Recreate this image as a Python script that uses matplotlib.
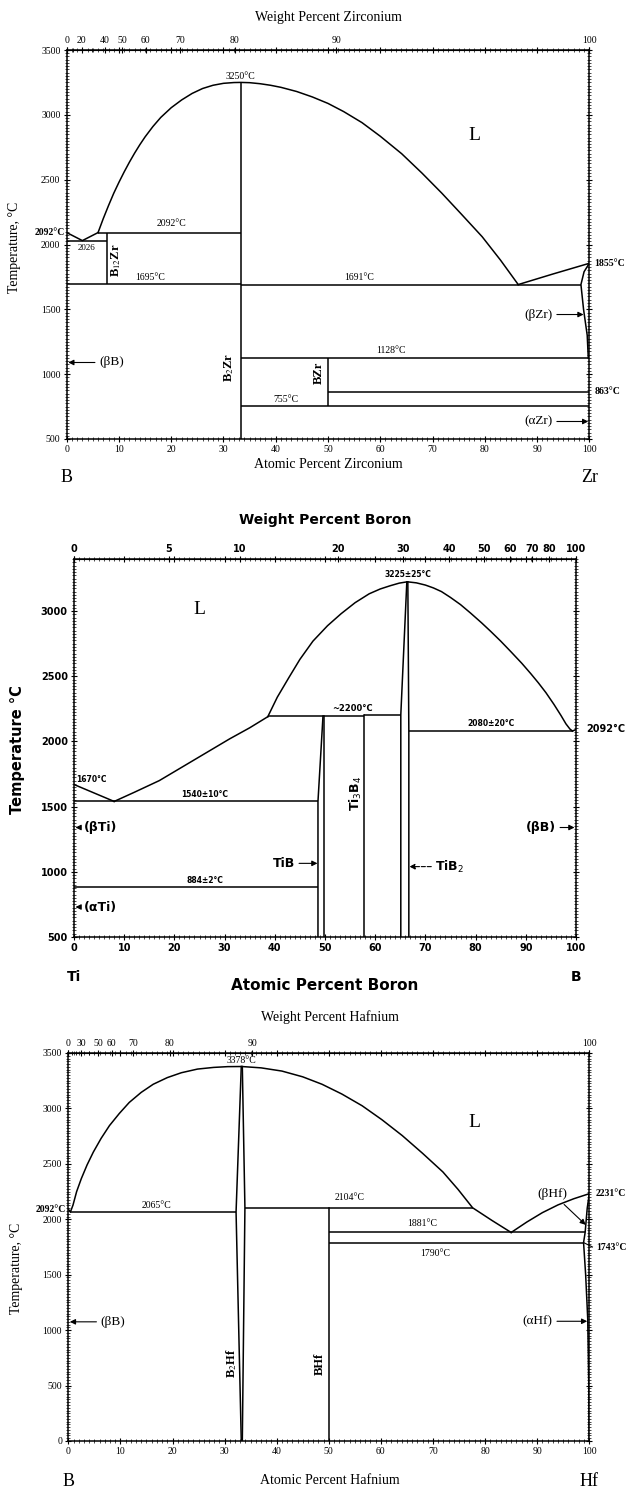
import numpy as np
import matplotlib.pyplot as plt
from matplotlib.ticker import MultipleLocator, FixedLocator

plt.rcParams['font.family'] = ['Liberation Serif', 'DejaVu Serif']

# ---------------- B - Zr ----------------
zr_wt_major = [0, 20, 40, 50, 60, 70, 80, 90, 100]
zr_wt_minor = [10, 30]
zr_liq_left_x = [0, 3.0, 6.0]
zr_liq_left_t = [2092, 2030, 2092]
zr_dome_x = [6.0, 7.0, 8.0, 9.0, 10.0, 11.0, 12.0, 13.0, 14.0, 15.0, 16.5,
             18.0, 20.0, 22.0, 24.0, 26.0, 28.0, 30.0, 32.0, 33.3, 35.0,
             37.0, 39.0, 41.0, 44.0, 47.0, 50.0, 53.0, 56.5, 60.0, 64.1,
             68.0, 71.8, 75.5, 79.5, 83.0, 86.4]
zr_dome_t = [2092, 2200, 2300, 2395, 2480, 2560, 2635, 2705, 2770, 2830, 2910,
             2980, 3055, 3115, 3165, 3203, 3228, 3243, 3249, 3250, 3248,
             3240, 3228, 3212, 3180, 3138, 3088, 3025, 2940, 2835, 2700,
             2550, 2395, 2235, 2060, 1880, 1691]
zr_liq_right_x = [86.4, 93.0, 100]
zr_liq_right_t = [1691, 1772, 1855]
zr_beta_x = [100, 99.0, 98.4, 98.9, 99.6, 99.8]
zr_beta_t = [1855, 1790, 1691, 1500, 1300, 1128]
zr_iso_t = [2092, 2026, 1695, 1691, 1128, 863, 755]
zr_iso_x0 = [6.0, 0, 0, 33.3, 33.3, 50, 33.3]
zr_iso_x1 = [33.3, 7.7, 33.3, 98.4, 100, 100, 100]
zr_cmp_x = [7.7, 33.3, 50]
zr_cmp_t0 = [1695, 500, 755]
zr_cmp_t1 = [2092, 3250, 1128]

# ---------------- Ti - B ----------------
ti_wt_major = [0, 5, 10, 20, 30, 40, 50, 60, 70, 80, 100]
ti_liq_left_x = [0, 8.0]
ti_liq_left_t = [1670, 1540]
ti_liq_mid_x = [8.0, 12.0, 17.0, 20.5, 24.0, 27.5, 31.0, 35.0, 38.6]
ti_liq_mid_t = [1540, 1610, 1700, 1780, 1860, 1940, 2020, 2105, 2190]
ti_dome_x = [38.6, 40.5, 42.8, 45.0, 47.6, 50.5, 53.2, 56.0, 58.8, 61.0, 63.0,
             64.8, 66.4, 68.2, 70.0, 71.6, 73.2, 75.0, 77.0, 79.0, 81.2, 83.0,
             85.0, 87.0, 89.2, 91.0, 92.5, 94.0, 95.6, 97.0, 98.0, 98.8, 99.3]
ti_dome_t = [2190, 2340, 2490, 2630, 2770, 2888, 2980, 3065, 3133, 3170, 3195,
             3215, 3225, 3217, 3200, 3178, 3150, 3105, 3050, 2985, 2910, 2845,
             2770, 2690, 2600, 2520, 2450, 2375, 2285, 2200, 2135, 2095, 2080]
ti_iso_t = [2195, 2205, 1540, 884, 2080]
ti_iso_x0 = [38.6, 57.8, 0, 0, 66.7]
ti_iso_x1 = [57.8, 65.1, 48.6, 48.6, 99.3]
tib_left_x = [48.6, 48.6, 49.6]
tib_left_t = [500, 1540, 2195]
tib_right_x = [49.9, 49.9]
tib_right_t = [500, 2195]
ti3b4_x = [57.8, 57.8]
ti3b4_t = [500, 2200]
tib2_left_x = [65.1, 65.1, 66.3]
tib2_left_t = [500, 2205, 3225]
tib2_right_x = [66.7, 66.7, 66.5]
tib2_right_t = [500, 2080, 3225]

# ---------------- B - Hf ----------------
hf_wt_major = [0, 30, 50, 60, 70, 80, 90, 100]
hf_wt_minor = [10, 20, 40]
hf_dome_x = [0, 0.4, 0.9, 1.6, 2.5, 3.6, 4.8, 6.3, 7.9, 9.8, 11.7, 14.0,
             16.3, 19.0, 21.7, 24.8, 27.9, 30.6, 33.3, 37.0, 41.0, 45.0,
             48.7, 52.5, 56.4, 60.2, 64.1, 68.0, 71.9, 74.8, 77.6, 81.3, 85.0]
hf_dome_t = [2092, 2065, 2128, 2250, 2367, 2490, 2606, 2730, 2845, 2955, 3054,
             3145, 3218, 3278, 3322, 3355, 3370, 3377, 3378, 3366, 3337, 3285,
             3218, 3130, 3024, 2898, 2755, 2595, 2427, 2270, 2104, 1990, 1881]
hf_liq_right_x = [85.0, 88.0, 91.0, 94.0, 97.0, 100]
hf_liq_right_t = [1881, 1975, 2060, 2130, 2185, 2231]
hf_beta_x = [100, 99.6, 99.2, 98.9, 99.3, 99.7, 99.9, 100]
hf_beta_t = [2231, 2100, 1881, 1790, 1500, 1100, 500, 0]
hf_iso_t = [2065, 2104, 1881, 1790]
hf_iso_x0 = [0.4, 33.9, 50, 50]
hf_iso_x1 = [32.2, 77.6, 99.2, 98.9]
b2hf_left_x = [33.2, 32.2, 33.2]
b2hf_left_t = [0, 2065, 3378]
b2hf_right_x = [33.4, 33.9, 33.4]
b2hf_right_t = [0, 2104, 3378]
bhf_x = [50, 50]
bhf_t = [0, 2104]

M_B, M_ZR, M_TI, M_HF = 10.81, 91.224, 47.867, 178.49

W, H = 631, 1491


def box(l, r, t, b):
    return [l / W, 1 - b / H, (r - l) / W, (b - t) / H]


def make_conv(m_a, m_b):
    # atomic % of b  <->  weight % of b
    def at2wt(a):
        a = np.asarray(a, float)
        return 100 * a * m_b / (a * m_b + (100 - a) * m_a)

    def wt2at(w):
        w = np.asarray(w, float)
        return 100 * (w / m_b) / (w / m_b + (100 - w) / m_a)
    return at2wt, wt2at


def style(ax, ymin, ymax, lab_font, lab_size, lab_weight='normal'):
    ax.set_xlim(0, 100)
    ax.set_ylim(ymin, ymax)
    ax.xaxis.set_major_locator(MultipleLocator(10))
    ax.xaxis.set_minor_locator(MultipleLocator(1))
    ax.yaxis.set_major_locator(MultipleLocator(500))
    ax.yaxis.set_minor_locator(MultipleLocator(25))
    ax.tick_params(which='both', direction='inout', top=True, right=True,
                   labeltop=False)
    ax.tick_params(which='major', length=5, width=0.8, pad=2)
    ax.tick_params(which='minor', length=2.5, width=0.5)
    for s in ax.spines.values():
        s.set_linewidth(1.1)
    for lab in ax.get_xticklabels() + ax.get_yticklabels():
        lab.set_fontfamily(lab_font)
        lab.set_fontsize(lab_size)
        lab.set_fontweight(lab_weight)


def top_axis(ax, m_a, m_b, major, minor, font, size, weight='normal'):
    f, g = make_conv(m_a, m_b)
    sec = ax.secondary_xaxis('top', functions=(f, g))
    sec.xaxis.set_major_locator(FixedLocator(major))
    sec.xaxis.set_minor_locator(FixedLocator(minor))
    sec.tick_params(which='major', length=5, width=0.8, pad=1, direction='inout')
    sec.tick_params(which='minor', length=3, width=0.6, direction='inout')
    sec.set_xticks(major)
    sec.set_xticklabels([str(v) for v in major], fontfamily=font,
                        fontsize=size, fontweight=weight)
    return sec


def arrow(ax, txt, xy, xytext, ha, fs, fam, weight='normal', ls='-'):
    ax.annotate(txt, xy=xy, xytext=xytext, ha=ha, va='center', fontsize=fs,
                fontfamily=fam, fontweight=weight,
                arrowprops=dict(arrowstyle='-|>', color='k', lw=0.8, ls=ls,
                                shrinkA=1, shrinkB=0, mutation_scale=8))


fig = plt.figure(figsize=(W / 100, H / 100), dpi=100)
LW = 1.1
SERIF = ['Liberation Serif', 'DejaVu Serif']
SANS = ['DejaVu Sans']

# ======================= panel 1 : B-Zr =======================
ax1 = fig.add_axes(box(66.7, 589.3, 50, 439))
ax1.plot(zr_liq_left_x, zr_liq_left_t, 'k', lw=LW)
ax1.plot(zr_dome_x, zr_dome_t, 'k', lw=LW)
ax1.plot(zr_liq_right_x, zr_liq_right_t, 'k', lw=LW)
ax1.plot(zr_beta_x, zr_beta_t, 'k', lw=LW)
ax1.hlines(zr_iso_t, zr_iso_x0, zr_iso_x1, colors='k', lw=LW)
ax1.vlines(zr_cmp_x, zr_cmp_t0, zr_cmp_t1, colors='k', lw=LW)
style(ax1, 500, 3500, SERIF, 7)
top_axis(ax1, M_B, M_ZR, zr_wt_major, zr_wt_minor, SERIF, 7)

ax1.text(3.8, 1972, '2026', fontsize=6.5, ha='center', va='center')
ax1.text(9.4, 1880, 'B$_{12}$Zr', rotation=90, fontsize=9, fontweight='bold',
         ha='center', va='center', math_fontfamily='stix')
ax1.text(20, 2130, '2092°C', fontsize=7, ha='center', va='bottom')
ax1.text(16, 1712, '1695°C', fontsize=7, ha='center', va='bottom')
ax1.text(56, 1708, '1691°C', fontsize=7, ha='center', va='bottom')
ax1.text(33.3, 3262, '3250°C', fontsize=7, ha='center', va='bottom')
ax1.text(78, 2840, 'L', fontsize=14, ha='center', va='center')
ax1.text(62, 1145, '1128°C', fontsize=7, ha='center', va='bottom')
ax1.text(42, 770, '755°C', fontsize=7, ha='center', va='bottom')
ax1.text(31.0, 1050, 'B$_2$Zr', rotation=90, fontsize=9, fontweight='bold',
         ha='center', va='center', math_fontfamily='stix')
ax1.text(48.2, 1010, 'BZr', rotation=90, fontsize=9, fontweight='bold',
         ha='center', va='center')
ax1.text(-0.4, 2092, '2092°C', fontsize=7, fontweight='bold', ha='right', va='center')
ax1.text(101, 1855, '1855°C', fontsize=7, fontweight='bold', ha='left', va='center')
ax1.text(101, 863, '863°C', fontsize=7, fontweight='bold', ha='left', va='center')
arrow(ax1, '(βB)', (0.3, 1090), (6.2, 1090), 'left', 9.5, SERIF)
arrow(ax1, '(βZr)', (98.9, 1460), (93.0, 1460), 'right', 9.5, SERIF)
arrow(ax1, '(αZr)', (99.8, 635), (93.0, 635), 'right', 9.5, SERIF)

tr1 = ax1.get_xaxis_transform()
ax1.text(0, -0.098, 'B', transform=tr1, fontsize=13, ha='center', va='center')
ax1.text(100, -0.098, 'Zr', transform=tr1, fontsize=13, ha='center', va='center')
fig.text(328 / W, 1 - 464 / H, 'Atomic Percent Zirconium', fontsize=10,
         ha='center', va='center')
fig.text(328 / W, 1 - 17 / H, 'Weight Percent Zirconium', fontsize=10,
         ha='center', va='center')
fig.text(15 / W, 1 - 247 / H, 'Temperature, °C', fontsize=10, rotation=90,
         ha='center', va='center')

# ======================= panel 2 : Ti-B =======================
ax2 = fig.add_axes(box(74, 576, 559, 937))
ax2.plot(ti_liq_left_x, ti_liq_left_t, 'k', lw=LW)
ax2.plot(ti_liq_mid_x, ti_liq_mid_t, 'k', lw=LW)
ax2.plot(ti_dome_x, ti_dome_t, 'k', lw=LW)
ax2.hlines(ti_iso_t, ti_iso_x0, ti_iso_x1, colors='k', lw=LW)
ax2.plot(tib_left_x, tib_left_t, 'k', lw=LW)
ax2.plot(tib_right_x, tib_right_t, 'k', lw=LW)
ax2.plot(ti3b4_x, ti3b4_t, 'k', lw=LW)
ax2.plot(tib2_left_x, tib2_left_t, 'k', lw=LW)
ax2.plot(tib2_right_x, tib2_right_t, 'k', lw=LW)
ax2.plot([99.3, 100], [2080, 2092], 'k', lw=LW)
style(ax2, 500, 3400, SANS, 7, 'bold')
top_axis(ax2, M_TI, M_B, ti_wt_major, [], SANS, 7, 'bold')

ax2.text(25, 3010, 'L', fontsize=14, ha='center', va='center', fontfamily=SERIF)
ax2.text(66.5, 3245, '3225±25°C', fontsize=5.5, fontweight='bold',
         fontfamily=SANS, ha='center', va='bottom')
ax2.text(55.5, 2220, '~2200°C', fontsize=6, fontweight='bold', fontfamily=SANS,
         ha='center', va='bottom')
ax2.text(83, 2100, '2080±20°C', fontsize=5.5, fontweight='bold', fontfamily=SANS,
         ha='center', va='bottom')
ax2.text(0.4, 1705, '1670°C', fontsize=5.5, fontweight='bold', fontfamily=SANS,
         ha='left', va='center')
ax2.text(26, 1555, '1540±10°C', fontsize=5.5, fontweight='bold', fontfamily=SANS,
         ha='center', va='bottom')
ax2.text(26, 900, '884±2°C', fontsize=5.5, fontweight='bold', fontfamily=SANS,
         ha='center', va='bottom')
ax2.text(56.2, 1600, 'Ti$_3$B$_4$', rotation=90, fontsize=9, fontweight='bold',
         fontfamily=SANS, ha='center', va='center', math_fontfamily='dejavusans')
ax2.text(102, 2092, '2092°C', fontsize=7, fontweight='bold', fontfamily=SANS,
         ha='left', va='center')
arrow(ax2, '(βTi)', (0.3, 1340), (2.0, 1340), 'left', 9, SANS, 'bold')
arrow(ax2, '(αTi)', (0.3, 730), (2.0, 730), 'left', 9, SANS, 'bold')
arrow(ax2, '(βB)', (99.7, 1340), (96.0, 1340), 'right', 9, SANS, 'bold')
arrow(ax2, 'TiB', (48.5, 1065), (44.0, 1065), 'right', 9, SANS, 'bold')
arrow(ax2, 'TiB$_2$', (66.8, 1040), (72.0, 1040), 'left', 9, SANS, 'bold', '--')

tr2 = ax2.get_xaxis_transform()
ax2.text(0, -0.105, 'Ti', transform=tr2, fontsize=10, fontweight='bold',
         fontfamily=SANS, ha='center', va='center')
ax2.text(100, -0.105, 'B', transform=tr2, fontsize=10, fontweight='bold',
         fontfamily=SANS, ha='center', va='center')
fig.text(325 / W, 1 - 985 / H, 'Atomic Percent Boron', fontsize=11,
         fontweight='bold', fontfamily=SANS, ha='center', va='center')
fig.text(325 / W, 1 - 520 / H, 'Weight Percent Boron', fontsize=10,
         fontweight='bold', fontfamily=SANS, ha='center', va='center')
fig.text(18 / W, 1 - 750 / H, 'Temperature °C', fontsize=10.5, fontweight='bold',
         fontfamily=SANS, rotation=90, ha='center', va='center')

# ======================= panel 3 : B-Hf =======================
ax3 = fig.add_axes(box(68.3, 589.3, 1053, 1441))
ax3.plot(hf_dome_x, hf_dome_t, 'k', lw=LW)
ax3.plot(hf_liq_right_x, hf_liq_right_t, 'k', lw=LW)
ax3.plot(hf_beta_x, hf_beta_t, 'k', lw=LW)
ax3.hlines(hf_iso_t, hf_iso_x0, hf_iso_x1, colors='k', lw=LW)
ax3.plot(b2hf_left_x, b2hf_left_t, 'k', lw=LW)
ax3.plot(b2hf_right_x, b2hf_right_t, 'k', lw=LW)
ax3.plot(bhf_x, bhf_t, 'k', lw=LW)
ax3.plot([98.9, 100.6], [1790, 1750], 'k', lw=0.8, clip_on=False)
style(ax3, 0, 3500, SERIF, 7)
top_axis(ax3, M_B, M_HF, hf_wt_major, hf_wt_minor, SERIF, 7)

ax3.text(33.3, 3390, '3378°C', fontsize=7, ha='center', va='bottom')
ax3.text(17, 2085, '2065°C', fontsize=7, ha='center', va='bottom')
ax3.text(54, 2160, '2104°C', fontsize=7, ha='center', va='bottom')
ax3.text(68, 1920, '1881°C', fontsize=7, ha='center', va='bottom')
ax3.text(70.5, 1690, '1790°C', fontsize=7, ha='center', va='center')
ax3.text(78, 2870, 'L', fontsize=14, ha='center', va='center')
ax3.text(31.3, 700, 'B$_2$Hf', rotation=90, fontsize=9, fontweight='bold',
         ha='center', va='center', math_fontfamily='stix')
ax3.text(48.2, 700, 'BHf', rotation=90, fontsize=9, fontweight='bold',
         ha='center', va='center')
ax3.text(-0.4, 2092, '2092°C', fontsize=7, fontweight='bold', ha='right', va='center')
ax3.text(101.3, 2231, '2231°C', fontsize=7, fontweight='bold', ha='left', va='center')
ax3.text(101.3, 1743, '1743°C', fontsize=7, fontweight='bold', ha='left', va='center')
ax3.annotate('(βHf)', xy=(99.3, 1950), xytext=(93.0, 2230), ha='center',
             va='center', fontsize=9.5,
             arrowprops=dict(arrowstyle='-|>', color='k', lw=0.8, shrinkA=2,
                             shrinkB=0, mutation_scale=8))
arrow(ax3, '(βB)', (0.3, 1075), (6.2, 1075), 'left', 9.5, SERIF)
arrow(ax3, '(αHf)', (99.6, 1080), (93.0, 1080), 'right', 9.5, SERIF)

tr3 = ax3.get_xaxis_transform()
ax3.text(0, -0.105, 'B', transform=tr3, fontsize=13, ha='center', va='center')
ax3.text(100, -0.105, 'Hf', transform=tr3, fontsize=13, ha='center', va='center')
fig.text(330 / W, 1 - 1481 / H, 'Atomic Percent Hafnium', fontsize=10,
         ha='center', va='center')
fig.text(330 / W, 1 - 1017 / H, 'Weight Percent Hafnium', fontsize=10,
         ha='center', va='center')
fig.text(17 / W, 1 - 1268 / H, 'Temperature, °C', fontsize=10, rotation=90,
         ha='center', va='center')

fig.savefig('out.png', dpi=100)
